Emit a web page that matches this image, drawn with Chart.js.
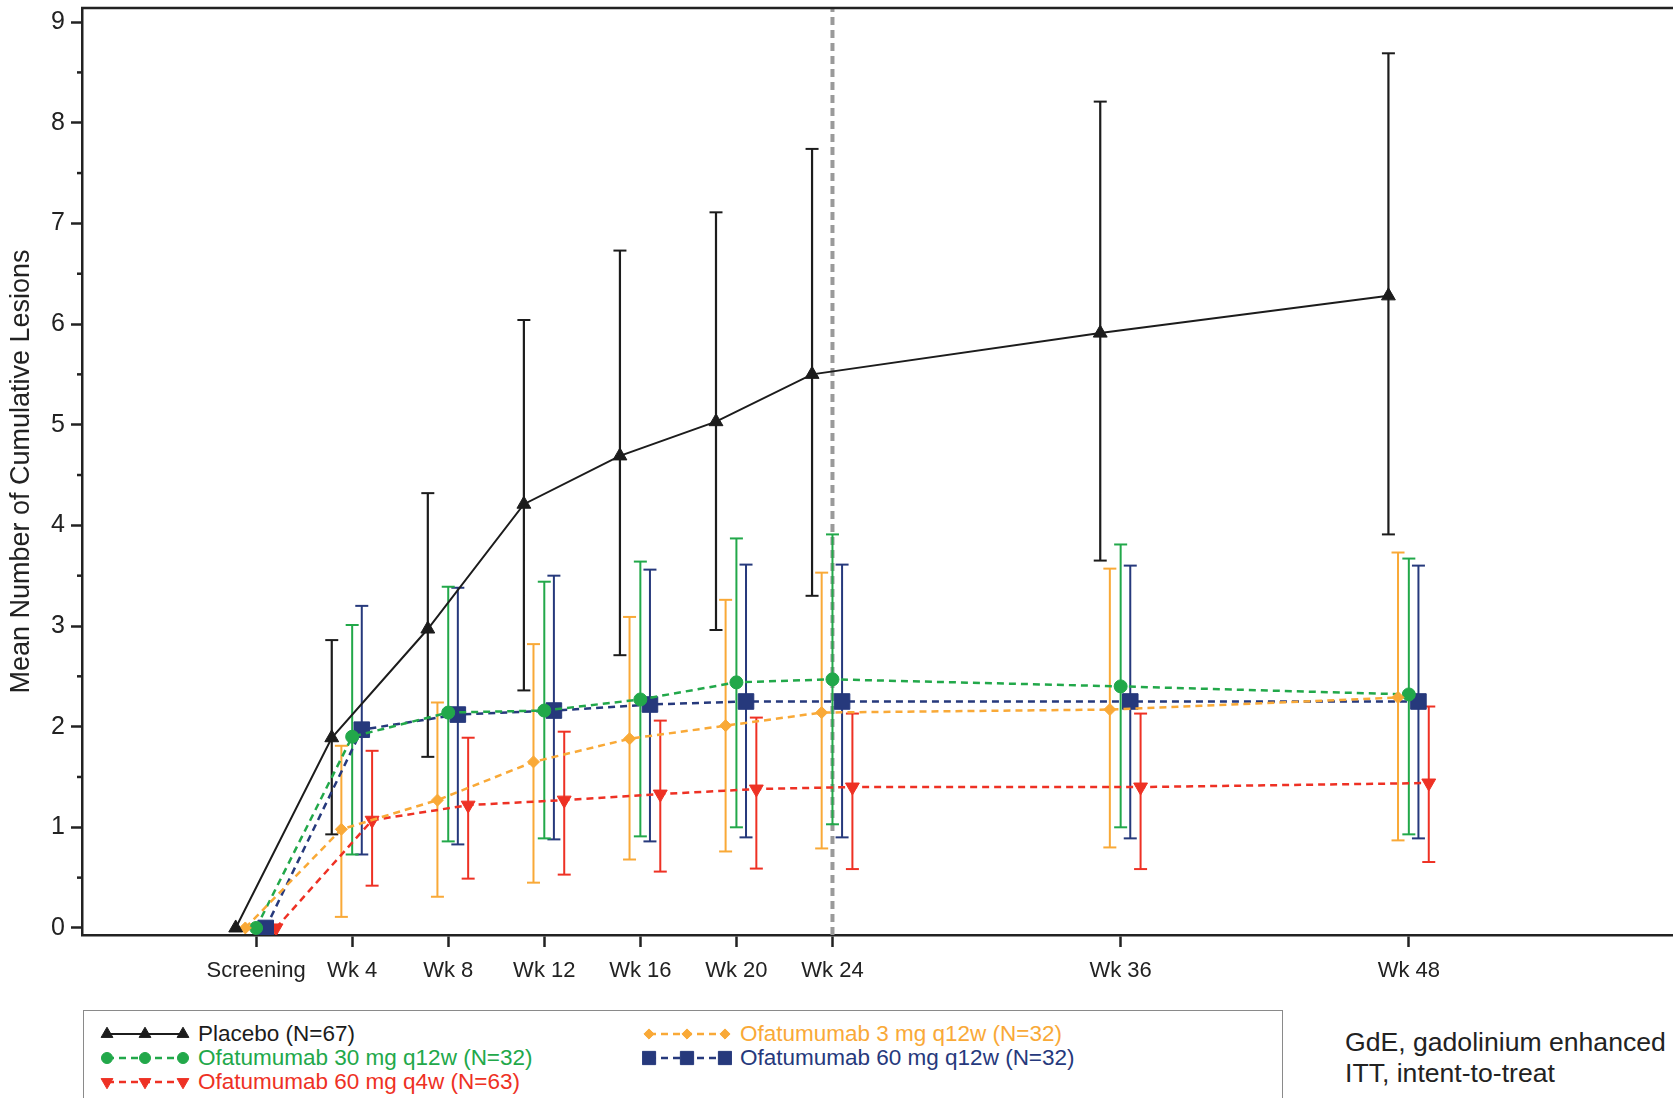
<!DOCTYPE html>
<html>
<head>
<meta charset="utf-8">
<script src="https://cdn.jsdelivr.net/npm/chart.js@4.4.1/dist/chart.umd.min.js"></script>
<style>
  body { margin: 0; background: #fff; font-family: "Liberation Sans", Arial, sans-serif; }
  #wrap { position: relative; width: 1673px; height: 1098px; overflow: hidden; }
  #legend { position: absolute; left: 83px; top: 1010px; width: 1198px; height: 100px;
            border: 1.5px solid #8a8a8a; border-bottom: none; }
  .item { position: absolute; display: flex; align-items: center; font-size: 22.5px; white-space: nowrap; height: 24px; }
  .item canvas { margin-right: 8px; }
  #note { position: absolute; left: 1345px; top: 1027px; font-size: 26.6px; line-height: 31px; color: #222; white-space: nowrap; }
</style>
</head>
<body>
<div id="wrap">
  <canvas id="lesionChart" width="1673" height="1000"></canvas>
  <div id="legend"></div>
  <div id="note">GdE, gadolinium enhanced<br>ITT, intent-to-treat</div>
</div>
<script>
const weeks = [0, 4, 8, 12, 16, 20, 24, 36, 48];
const weekLabels = ['Screening', 'Wk 4', 'Wk 8', 'Wk 12', 'Wk 16', 'Wk 20', 'Wk 24', 'Wk 36', 'Wk 48'];

// mean and error bar ends per visit (screening has no bar)
const placebo   = [0, 1.89, 2.97, 4.21, 4.69, 5.03, 5.50, 5.91, 6.28];
const placeboLo = [null, 0.93, 1.70, 2.36, 2.71, 2.96, 3.30, 3.65, 3.91];
const placeboHi = [null, 2.86, 4.32, 6.04, 6.73, 7.11, 7.74, 8.21, 8.69];

const ofa3   = [0, 0.98, 1.27, 1.65, 1.88, 2.01, 2.14, 2.17, 2.29];
const ofa3Lo = [null, 0.11, 0.31, 0.45, 0.68, 0.76, 0.79, 0.80, 0.87];
const ofa3Hi = [null, 1.81, 2.24, 2.82, 3.09, 3.26, 3.53, 3.57, 3.73];

const ofa30   = [0, 1.90, 2.14, 2.16, 2.27, 2.44, 2.47, 2.40, 2.32];
const ofa30Lo = [null, 0.73, 0.86, 0.89, 0.91, 1.00, 1.03, 1.00, 0.93];
const ofa30Hi = [null, 3.01, 3.39, 3.44, 3.64, 3.87, 3.91, 3.81, 3.67];

const ofa60q12w   = [0, 1.97, 2.12, 2.16, 2.22, 2.25, 2.25, 2.25, 2.25];
const ofa60q12wLo = [null, 0.73, 0.83, 0.88, 0.86, 0.90, 0.90, 0.89, 0.89];
const ofa60q12wHi = [null, 3.20, 3.38, 3.50, 3.56, 3.61, 3.61, 3.60, 3.60];

const ofa60q4w   = [0, 1.07, 1.22, 1.27, 1.33, 1.38, 1.40, 1.40, 1.44];
const ofa60q4wLo = [null, 0.42, 0.49, 0.53, 0.56, 0.59, 0.585, 0.585, 0.655];
const ofa60q4wHi = [null, 1.76, 1.89, 1.95, 2.06, 2.09, 2.13, 2.13, 2.20];

const yMinorTicks = [0.5, 1.5, 2.5, 3.5, 4.5, 5.5, 6.5, 7.5, 8.5];
const cutoffWeek = 24;

const series = [
  { label: 'Placebo (N=67)', mean: placebo, lo: placeboLo, hi: placeboHi, shift: -0.85,
    color: '#1c1c1c', dash: [], width: 2, style: 'triangle', rot: 0, r: 8, row: 0, col: 0 },
  { label: 'Ofatumumab 3 mg q12w (N=32)', mean: ofa3, lo: ofa3Lo, hi: ofa3Hi, shift: -0.45,
    color: '#F9A937', dash: [7, 5], width: 2.5, style: 'rectRot', rot: 0, r: 6, row: 0, col: 1 },
  { label: 'Ofatumumab 30 mg q12w (N=32)', mean: ofa30, lo: ofa30Lo, hi: ofa30Hi, shift: 0,
    color: '#22A84A', dash: [7, 5], width: 2.5, style: 'circle', rot: 0, r: 6.5, row: 1, col: 0 },
  { label: 'Ofatumumab 60 mg q12w (N=32)', mean: ofa60q12w, lo: ofa60q12wLo, hi: ofa60q12wHi, shift: 0.4,
    color: '#26397C', dash: [7, 5], width: 2.5, style: 'rect', rot: 0, r: 11, row: 1, col: 1 },
  { label: 'Ofatumumab 60 mg q4w (N=63)', mean: ofa60q4w, lo: ofa60q4wLo, hi: ofa60q4wHi, shift: 0.83,
    color: '#EE3124', dash: [7, 5], width: 2.5, style: 'triangle', rot: 180, r: 8, row: 2, col: 0 }
];

function errorPoints(s) {
  const pts = [];
  weeks.forEach((w, i) => {
    if (s.lo[i] == null) return;
    pts.push({ x: w + s.shift, y: s.lo[i] }, { x: w + s.shift, y: s.hi[i] }, { x: w + s.shift, y: null });
  });
  return pts;
}

const datasets = [];
series.forEach(s => {
  datasets.push({
    data: weeks.map((w, i) => ({ x: w + s.shift, y: s.mean[i] })),
    borderColor: s.color, backgroundColor: s.color, borderWidth: s.width, borderDash: s.dash,
    pointStyle: s.style, pointRotation: s.rot, pointRadius: s.r, pointBorderWidth: 1,
    pointBackgroundColor: s.color, pointBorderColor: s.color, tension: 0, order: 1
  });
  datasets.push({
    data: errorPoints(s),
    borderColor: s.color, borderWidth: s.color === '#1c1c1c' ? 2.2 : 2, spanGaps: false,
    pointStyle: 'line', pointRadius: 6.5, pointBorderWidth: 2, pointBorderColor: s.color, order: 5
  });
});

// dashed reference line at week 24
datasets.push({
  data: [{ x: cutoffWeek, y: -0.07 }, { x: cutoffWeek, y: 9.14 }],
  borderColor: '#9a9a9a', borderWidth: 4, borderDash: [8, 5], pointRadius: 0, order: 10
});

const framePlugin = {
  id: 'frame',
  afterDraw(chart) {
    const { ctx, chartArea: a, scales: { y } } = chart;
    ctx.save();
    ctx.strokeStyle = '#222';
    ctx.lineWidth = 2.5;
    ctx.beginPath();
    ctx.moveTo(a.left - 1, a.top);
    ctx.lineTo(a.right, a.top);
    ctx.stroke();
    yMinorTicks.forEach(v => {
      const py = y.getPixelForValue(v);
      ctx.beginPath();
      ctx.moveTo(a.left - 5, py);
      ctx.lineTo(a.left, py);
      ctx.stroke();
    });
    ctx.restore();
  }
};

Chart.defaults.font.family = '"Liberation Sans", Arial, sans-serif';

new Chart(document.getElementById('lesionChart'), {
  type: 'line',
  data: { datasets },
  plugins: [framePlugin],
  options: {
    responsive: false,
    animation: false,
    events: [],
    layout: { autoPadding: false, padding: { top: 8, left: 0, right: 0, bottom: 0 } },
    plugins: { legend: { display: false }, tooltip: { enabled: false } },
    scales: {
      x: {
        type: 'linear', min: -7.25, max: 59,
        afterBuildTicks: s => { s.ticks = weeks.map(v => ({ value: v })); },
        afterFit: s => { s.height = 65; s.paddingLeft = 0; s.paddingRight = 0; },
        ticks: {
          callback: v => { const i = weeks.indexOf(v); return i >= 0 ? weekLabels[i] : ''; },
          font: { size: 22 }, color: '#222', padding: 11, maxRotation: 0, autoSkip: false
        },
        grid: { drawOnChartArea: false, tickLength: 12, tickWidth: 2.5, tickColor: '#222' },
        border: { color: '#222', width: 2.5 }
      },
      y: {
        min: -0.07, max: 9.14,
        afterFit: s => { s.width = 82; s.paddingTop = 0; s.paddingBottom = 0; },
        ticks: { stepSize: 1, includeBounds: false, font: { size: 25 }, color: '#222', padding: 6 },
        grid: { drawOnChartArea: false, tickLength: 11, tickWidth: 2.5, tickColor: '#222' },
        border: { color: '#222', width: 2.5 },
        title: {
          display: true, text: 'Mean Number of Cumulative Lesions',
          font: { size: 27 }, color: '#222', padding: { top: 5, bottom: 0 }
        }
      }
    }
  }
});

// legend in two columns, samples drawn with Chart.js point helper
const legend = document.getElementById('legend');
const colX = [16, 558];
const rowY = [11, 35, 59];
series.forEach(s => {
  const item = document.createElement('div');
  item.className = 'item';
  item.style.left = colX[s.col] + 'px';
  item.style.top = rowY[s.row] + 'px';
  item.style.color = s.color;
  const c = document.createElement('canvas');
  c.width = 90; c.height = 24;
  const ctx = c.getContext('2d');
  ctx.strokeStyle = s.color;
  ctx.fillStyle = s.color;
  ctx.lineWidth = s.width;
  ctx.setLineDash(s.dash);
  ctx.beginPath(); ctx.moveTo(7, 12); ctx.lineTo(83, 12); ctx.stroke();
  ctx.setLineDash([]);
  ctx.lineWidth = 1;
  [7, 45, 83].forEach(px => {
    Chart.helpers.drawPoint(ctx, { pointStyle: s.style, rotation: s.rot, radius: s.r * 0.85, borderWidth: 1 }, px, 12);
  });
  item.appendChild(c);
  const t = document.createElement('span');
  t.textContent = s.label;
  item.appendChild(t);
  legend.appendChild(item);
});
</script>
</body>
</html>
